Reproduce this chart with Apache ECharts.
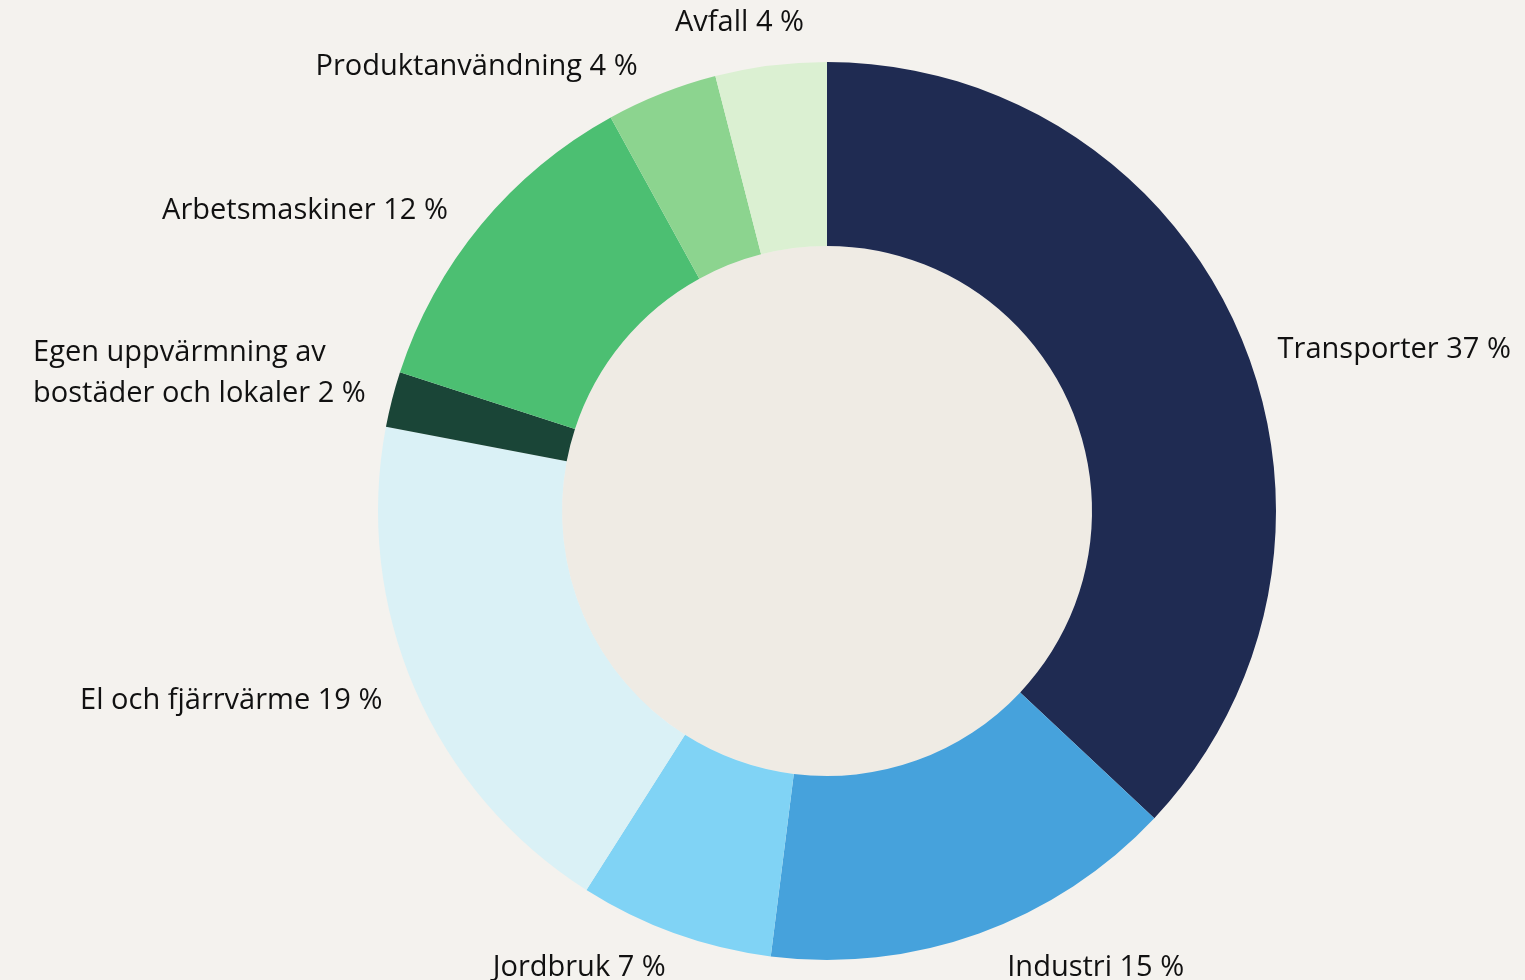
<!DOCTYPE html>
<html>
<head>
<meta charset="utf-8">
<script src="https://cdn.jsdelivr.net/npm/echarts@6/dist/echarts.min.js"></script>
<style>
html,body{margin:0;padding:0;background:#f4f2ee;}
#chart{width:1525px;height:980px;}
</style>
</head>
<body>
<div id="chart"></div>
<script>
const categories = ['Transporter', 'Industri', 'Jordbruk', 'El och fjärrvärme', 'Egen uppvärmning av\nbostäder och lokaler', 'Arbetsmaskiner', 'Produktanvändning', 'Avfall'];
const values = [37, 15, 7, 19, 2, 12, 4, 4];
const colors = ['#1f2b52', '#46a2dc', '#80d3f5', '#daf1f6', '#1a4537', '#4cbf72', '#8cd48f', '#dbf0d2'];

// small manual label nudges (as in the original layout)
const labelNudge = {
  'Transporter': [6, 29],
  'Industri': [13, 6],
  'Jordbruk': [6, 6],
  'Egen uppvärmning av\nbostäder och lokaler': [8, -19],
  'Arbetsmaskiner': [-5, 5],
  'Produktanvändning': [-8, 1],
  'Avfall': [42, -13]
};

const FONT_FAMILY = '"Open Sans", Lato, sans-serif';
const FONT_SIZE = 29;
const LINE_H = 41;

const measureCtx = document.createElement('canvas').getContext('2d');
measureCtx.font = FONT_SIZE + 'px ' + FONT_FAMILY;

const chart = echarts.init(document.getElementById('chart'), null, {renderer: 'canvas'});
const data = categories.map((c, i) => {
  const text = c + ' ' + values[i] + ' %';
  const lines = text.split('\n');
  const label = labelNudge[c] ? {offset: labelNudge[c]} : {};
  if (lines.length > 1) {
    const w = Math.ceil(Math.max(...lines.map(l => measureCtx.measureText(l).width)));
    label.formatter = lines.map(l => '{l|' + l + '}').join('\n');
    label.rich = {l: {width: w, align: 'left', fontFamily: FONT_FAMILY, fontSize: FONT_SIZE, lineHeight: LINE_H, color: '#111111'}};
  }
  return {name: c, value: values[i], itemStyle: {color: colors[i]}, label: label};
});

chart.setOption({
  backgroundColor: '#f4f2ee',
  animation: false,
  series: [
    {
      type: 'pie',
      center: [827, 511],
      radius: [0, 265],
      silent: true,
      label: {show: false},
      labelLine: {show: false},
      data: [{value: 1, itemStyle: {color: '#efebe4'}}]
    },
    {
      type: 'pie',
      center: [827, 511],
      radius: [265, 449],
      startAngle: 90,
      clockwise: true,
      avoidLabelOverlap: false,
      itemStyle: {borderWidth: 0},
      label: {
        show: true,
        position: 'outside',
        formatter: p => p.name + ' ' + p.value + ' %',
        fontFamily: FONT_FAMILY,
        fontSize: FONT_SIZE,
        lineHeight: LINE_H,
        color: '#111111'
      },
      labelLine: {show: false, length: 30, length2: 0},
      data: data
    }
  ]
});
</script>
</body>
</html>
